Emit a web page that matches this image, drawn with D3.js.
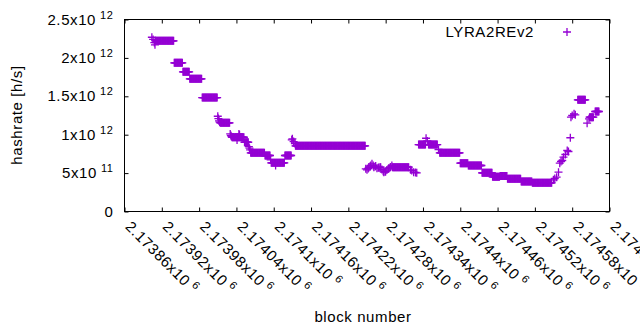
<!DOCTYPE html>
<html>
<head>
<meta charset="utf-8">
<script src="https://cdn.jsdelivr.net/npm/d3@7/dist/d3.min.js"></script>
<style>
  body { margin: 0; background: #fff; }
  text { font-family: "Liberation Sans", Arial, sans-serif; fill: #000; }
</style>
</head>
<body>
<div id="chart"></div>
<script>
// block ranges where the hashrate stays flat: [first block, last block, hashrate x10^12 h/s]
const plateaus = [
  [2173910, 2173939, 2.222],
  [2173940, 2173953, 1.936],
  [2173954, 2173964, 1.819],
  [2173965, 2173984, 1.728],
  [2173985, 2174009, 1.484],
  [2174014, 2174029, 1.155],
  [2174033, 2174052, 0.967],
  [2174053, 2174059, 0.902],
  [2174063, 2174085, 0.764],
  [2174086, 2174094, 0.729],
  [2174096, 2174117, 0.634],
  [2174118, 2174128, 0.729],
  [2174135, 2174247, 0.855],
  [2174291, 2174317, 0.577],
  [2174333, 2174344, 0.872],
  [2174349, 2174363, 0.872],
  [2174367, 2174399, 0.764],
  [2174400, 2174412, 0.629],
  [2174413, 2174434, 0.599],
  [2174435, 2174451, 0.504],
  [2174452, 2174463, 0.452],
  [2174464, 2174475, 0.462],
  [2174476, 2174497, 0.426],
  [2174498, 2174515, 0.391],
  [2174516, 2174547, 0.374],
  [2174589, 2174601, 1.454],
  [2174608, 2174614, 1.228],
  [2174617, 2174623, 1.302]
];

// single blocks between the flat parts: [block, hashrate x10^12 h/s]
const singles = [
  [2173904, 2.269], [2173906, 2.240], [2173908, 2.200], [2173909, 2.170],
  [2174010, 1.240], [2174011, 1.210], [2174012, 1.180], [2174013, 1.165],
  [2174030, 1.010], [2174031, 0.990], [2174032, 0.975], [2174041, 0.930],
  [2174044, 1.010], [2174045, 1.000],
  [2174060, 0.846], [2174061, 0.825], [2174062, 0.803],
  [2174095, 0.673], [2174103, 0.600],
  [2174129, 0.933], [2174130, 0.946], [2174132, 0.910], [2174134, 0.885],
  [2174248, 0.556], [2174250, 0.543], [2174252, 0.560], [2174253, 0.573],
  [2174255, 0.590], [2174256, 0.599], [2174258, 0.621], [2174260, 0.600],
  [2174261, 0.577], [2174263, 0.585], [2174264, 0.592], [2174266, 0.564],
  [2174268, 0.570], [2174269, 0.573], [2174271, 0.577], [2174272, 0.577],
  [2174274, 0.547], [2174276, 0.525], [2174277, 0.512], [2174279, 0.518],
  [2174280, 0.521], [2174282, 0.540], [2174284, 0.555], [2174285, 0.564],
  [2174287, 0.572], [2174288, 0.579], [2174290, 0.599],
  [2174320, 0.543], [2174322, 0.534], [2174325, 0.512], [2174328, 0.508],
  [2174330, 0.504],
  [2174345, 0.954], [2174347, 0.918], [2174365, 0.807],
  [2174550, 0.413], [2174552, 0.430], [2174555, 0.447], [2174558, 0.512],
  [2174560, 0.629], [2174562, 0.651], [2174564, 0.664], [2174566, 0.707],
  [2174569, 0.742], [2174572, 0.794], [2174574, 0.781], [2174577, 0.960],
  [2174578, 1.228], [2174580, 1.250], [2174583, 1.272], [2174585, 1.259],
  [2174604, 1.150], [2174607, 1.207]
];

const xTickValues = [
  2173860, 2173920, 2173980, 2174040, 2174100, 2174160, 2174220,
  2174280, 2174340, 2174400, 2174460, 2174520, 2174580, 2174640
];
const yTickValues = [0, 5e11, 1e12, 1.5e12, 2e12, 2.5e12];

const seriesName = 'LYRA2REv2';
const xTitle = 'block number';
const yTitle = 'hashrate [h/s]';

const width = 640;
const height = 330;
const margin = { top: 19.5, right: 30.5, bottom: 118.5, left: 124.5 };
const color = '#9400d3';

// expand into one point per block
const points = [];
plateaus.forEach(([from, to, v]) => {
  for (let b = from; b <= to; b++) points.push({ block: b, rate: v * 1e12 });
});
singles.forEach(([b, v]) => points.push({ block: b, rate: v * 1e12 }));

const svg = d3.select('#chart')
  .append('svg')
  .attr('width', width)
  .attr('height', height);

const x = d3.scaleLinear()
  .domain([xTickValues[0], xTickValues[xTickValues.length - 1]])
  .range([margin.left, width - margin.right]);

const y = d3.scaleLinear()
  .domain([0, 2.5e12])
  .range([height - margin.bottom, margin.top]);

// split a number into gnuplot-style "m x10^e"
const sci = (v) => {
  if (v === 0) return { mant: '0', exp: null };
  const exp = Math.floor(Math.log10(v) + 1e-9);
  const mant = +(v / Math.pow(10, exp)).toFixed(6);
  return { mant: `${mant}x10`, exp: String(exp) };
};

const fontSize = 15;
const supSize = 11;
const spacing = '0.6px';

// ticks pointing inward on all four sides
const tickLen = 4;
const axes = [
  [d3.axisBottom(x).tickValues(xTickValues), `translate(0,${y.range()[0]})`],
  [d3.axisTop(x).tickValues(xTickValues), `translate(0,${y.range()[1]})`],
  [d3.axisLeft(y).tickValues(yTickValues), `translate(${x.range()[0]},0)`],
  [d3.axisRight(y).tickValues(yTickValues), `translate(${x.range()[1]},0)`]
];
axes.forEach(([axis, tr]) => {
  const g = svg.append('g')
    .attr('transform', tr)
    .call(axis.tickSize(-tickLen).tickSizeOuter(0).tickFormat(''));
  g.select('.domain').remove();
  g.selectAll('.tick line').attr('stroke', '#000');
});

svg.append('rect')
  .attr('x', x.range()[0])
  .attr('y', y.range()[1])
  .attr('width', x.range()[1] - x.range()[0])
  .attr('height', y.range()[0] - y.range()[1])
  .attr('fill', 'none')
  .attr('stroke', '#000')
  .attr('stroke-width', 1);

// y tick labels
yTickValues.forEach(v => {
  const s = sci(v);
  const t = svg.append('text')
    .attr('x', x.range()[0] - 11)
    .attr('y', y(v) + 5)
    .attr('text-anchor', 'end')
    .style('font-size', `${fontSize}px`)
    .style('letter-spacing', spacing);
  t.append('tspan').text(s.mant);
  if (s.exp) {
    t.append('tspan')
      .attr('dx', 4)
      .attr('dy', -6)
      .style('font-size', `${supSize}px`)
      .text(s.exp);
  }
});

// x tick labels, rotated
xTickValues.forEach(v => {
  const s = sci(v);
  const px = x(v);
  const py = y.range()[0] + 16;
  const t = svg.append('text')
    .attr('transform', `translate(${px},${py}) rotate(45)`)
    .style('font-size', `${fontSize}px`)
    .style('letter-spacing', spacing);
  t.append('tspan').text(s.mant);
  t.append('tspan')
    .attr('dx', 4)
    .attr('dy', -6)
    .style('font-size', `${supSize}px`)
    .text(s.exp);
});

// axis titles
svg.append('text')
  .attr('x', 363)
  .attr('y', 322)
  .attr('text-anchor', 'middle')
  .style('font-size', `${fontSize}px`)
  .style('letter-spacing', spacing)
  .text(xTitle);

svg.append('text')
  .attr('transform', 'translate(22,115) rotate(-90)')
  .attr('text-anchor', 'middle')
  .style('font-size', `${fontSize}px`)
  .style('letter-spacing', spacing)
  .text(yTitle);

// points drawn as "+" marks
const plus = (cx, cy, r) => `M${cx - r},${cy}h${2 * r}M${cx},${cy - r}v${2 * r}`;

svg.append('g')
  .selectAll('path')
  .data(points)
  .join('path')
  .attr('d', d => plus(x(d.block), y(d.rate), 4))
  .attr('stroke', color)
  .attr('stroke-width', 1.3)
  .attr('fill', 'none');

// legend
svg.append('text')
  .attr('x', 534)
  .attr('y', 37)
  .attr('text-anchor', 'end')
  .style('font-size', `${fontSize}px`)
  .style('letter-spacing', spacing)
  .text(seriesName);

svg.append('path')
  .attr('d', plus(567, 32, 4))
  .attr('stroke', color)
  .attr('stroke-width', 1.3)
  .attr('fill', 'none');
</script>
</body>
</html>
